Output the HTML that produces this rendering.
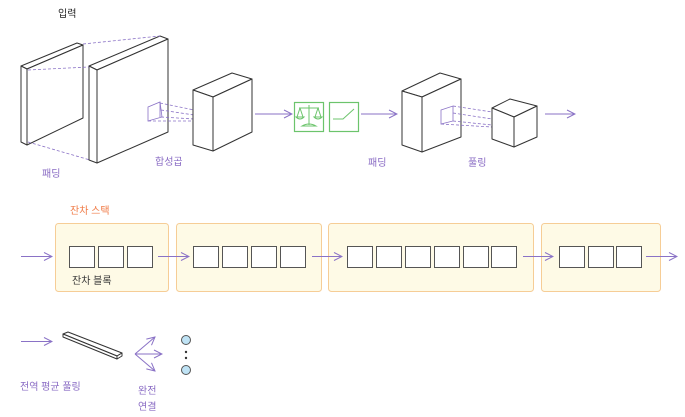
<!DOCTYPE html>
<html>
<head>
<meta charset="utf-8">
<style>
  html,body{margin:0;padding:0;background:#fff;}
  svg{display:block;}
  text{font-family:"Liberation Sans","Noto Sans CJK KR",sans-serif;font-size:10px;}
</style>
</head>
<body>
<svg width="685" height="417" viewBox="0 0 685 417" xmlns="http://www.w3.org/2000/svg">
  <defs>
    <marker id="ah" markerWidth="10" markerHeight="10" refX="9" refY="5" orient="auto" markerUnits="userSpaceOnUse">
      <path d="M1,1 L9,5 L1,9" fill="none" stroke="#8a72c6" stroke-width="1"/>
    </marker>
  </defs>

  <!-- Title -->
  <text x="58" y="17" fill="#222">입력</text>

  <!-- Slab 1 (input) -->
  <g stroke="#333" stroke-width="1" fill="#fff" stroke-linejoin="round">
    <polygon points="21,66 77,43 83,45 27,69"/>
    <polygon points="21,66 27,69 27,145 21,142"/>
    <polygon points="27,69 83,45 83,118 27,145"/>
  </g>
  <!-- Slab 2 (padded) -->
  <g stroke="#333" stroke-width="1" fill="#fff" stroke-linejoin="round">
    <polygon points="89,66 160,36 168,39 97,70"/>
    <polygon points="89,66 97,70 97,163 89,160"/>
    <polygon points="97,70 168,39 168,132 97,163"/>
  </g>
  <!-- dashed padding lines -->
  <g stroke="#8a72c6" stroke-width="0.8" stroke-dasharray="3,2" fill="none">
    <line x1="83" y1="44" x2="160" y2="36"/>
    <line x1="28" y1="70" x2="89" y2="67"/>
    <line x1="28" y1="142" x2="90" y2="160"/>
  </g>
  <!-- kernel on slab2 -->
  <g stroke="#8a72c6" stroke-width="0.8" fill="none">
    <polygon points="148,107 160,102 162,117 148,121"/>
    <line x1="160" y1="102" x2="160" y2="117"/>
  </g>
  <g stroke="#8a72c6" stroke-width="0.8" stroke-dasharray="3,2" fill="none">
    <line x1="160" y1="103" x2="194" y2="110"/>
    <line x1="161" y1="110" x2="194" y2="115"/>
    <line x1="161" y1="117" x2="194" y2="119"/>
    <line x1="148" y1="121" x2="194" y2="121"/>
  </g>
  <!-- Cube 3 -->
  <g stroke="#333" stroke-width="1" fill="#fff" stroke-linejoin="round">
    <polygon points="193,90 232,73 252,79 213,97"/>
    <polygon points="193,90 213,97 213,151 193,145"/>
    <polygon points="213,97 252,79 252,132 213,151"/>
  </g>
  <text x="155" y="165" fill="#8a6cc4">합성곱</text>
  <text x="42" y="177" fill="#8a6cc4">패딩</text>

  <!-- arrow to BN -->
  <line x1="255" y1="114" x2="292" y2="114" stroke="#8a72c6" stroke-width="1" marker-end="url(#ah)"/>

  <!-- Green BN box -->
  <rect x="294.5" y="102.5" width="29" height="29" fill="#fff" stroke="#6cc46c" stroke-width="1.2"/>
  <g stroke="#6cc46c" stroke-width="1" fill="none">
    <line x1="309" y1="105" x2="309" y2="125"/>
    <line x1="299" y1="108" x2="319" y2="108"/>
    <line x1="300" y1="108" x2="297" y2="117"/>
    <line x1="300" y1="108" x2="303" y2="117"/>
    <path d="M296,117 Q300,121 304,117 Z"/>
    <line x1="318" y1="108" x2="315" y2="117"/>
    <line x1="318" y1="108" x2="321" y2="117"/>
    <path d="M314,117 Q318,121 322,117 Z"/>
    <path d="M302,126 Q309,122 316,126 Z"/>
  </g>
  <!-- Green ReLU box -->
  <rect x="329.5" y="102.5" width="29" height="29" fill="#fff" stroke="#6cc46c" stroke-width="1.2"/>
  <polyline points="333,119 343,119 354,109" fill="none" stroke="#6cc46c" stroke-width="1"/>

  <line x1="361" y1="114" x2="397" y2="114" stroke="#8a72c6" stroke-width="1" marker-end="url(#ah)"/>

  <!-- Box 4 -->
  <g stroke="#333" stroke-width="1" fill="#fff" stroke-linejoin="round">
    <polygon points="402,91 440,73 461,79 422,97"/>
    <polygon points="402,91 422,97 422,152 402,145"/>
    <polygon points="422,97 461,79 461,137 422,152"/>
  </g>
  <g stroke="#8a72c6" stroke-width="0.8" fill="none">
    <polygon points="441,110 453,106 453,121 441,124"/>
  </g>
  <g stroke="#8a72c6" stroke-width="0.8" stroke-dasharray="3,2" fill="none">
    <line x1="453" y1="106" x2="492" y2="112"/>
    <line x1="453" y1="113" x2="492" y2="119"/>
    <line x1="453" y1="121" x2="492" y2="125"/>
    <line x1="441" y1="124" x2="492" y2="127"/>
  </g>
  <!-- small cube -->
  <g stroke="#333" stroke-width="1" fill="#fff" stroke-linejoin="round">
    <polygon points="492,108 510,99 537,106 514,117"/>
    <polygon points="492,108 514,117 514,147 492,139"/>
    <polygon points="514,117 537,106 537,137 514,147"/>
  </g>
  <text x="368" y="166" fill="#8a6cc4">패딩</text>
  <text x="468" y="166" fill="#8a6cc4">풀링</text>
  <line x1="545" y1="114" x2="575" y2="114" stroke="#8a72c6" stroke-width="1" marker-end="url(#ah)"/>

  <!-- Residual stack -->
  <text x="70" y="214" fill="#f07a45">잔차 스택</text>
  <g fill="#fefae6" stroke="#f6cd96" stroke-width="1">
    <rect x="55.5" y="223.5" width="113" height="68" rx="3"/>
    <rect x="176.5" y="223.5" width="145" height="68" rx="3"/>
    <rect x="328.5" y="223.5" width="205" height="68" rx="3"/>
    <rect x="541.5" y="223.5" width="119" height="68" rx="3"/>
  </g>
  <g fill="#fff" stroke="#555" stroke-width="1">
    <rect x="69.5" y="246.5" width="25" height="21"/>
    <rect x="98.5" y="246.5" width="25" height="21"/>
    <rect x="127.5" y="246.5" width="25" height="21"/>

    <rect x="193.5" y="246.5" width="25" height="21"/>
    <rect x="222.5" y="246.5" width="25" height="21"/>
    <rect x="251.5" y="246.5" width="25" height="21"/>
    <rect x="280.5" y="246.5" width="25" height="21"/>

    <rect x="347.5" y="246.5" width="25" height="21"/>
    <rect x="376.5" y="246.5" width="25" height="21"/>
    <rect x="405.5" y="246.5" width="25" height="21"/>
    <rect x="434.5" y="246.5" width="25" height="21"/>
    <rect x="463.5" y="246.5" width="25" height="21"/>
    <rect x="491.5" y="246.5" width="25" height="21"/>

    <rect x="559.5" y="246.5" width="25" height="21"/>
    <rect x="588.5" y="246.5" width="25" height="21"/>
    <rect x="616.5" y="246.5" width="25" height="21"/>
  </g>
  <text x="72" y="284" fill="#333">잔차 블록</text>
  <g stroke="#8a72c6" stroke-width="1" marker-end="url(#ah)">
    <line x1="21" y1="256.5" x2="52" y2="256.5"/>
    <line x1="158" y1="256.5" x2="189" y2="256.5"/>
    <line x1="312" y1="256.5" x2="342" y2="256.5"/>
    <line x1="523" y1="256.5" x2="553" y2="256.5"/>
    <line x1="646" y1="256.5" x2="677" y2="256.5"/>
  </g>

  <!-- Global average pooling -->
  <line x1="21" y1="341.5" x2="52" y2="341.5" stroke="#8a72c6" stroke-width="1" marker-end="url(#ah)"/>
  <g stroke="#333" stroke-width="1" fill="#fff" stroke-linejoin="round">
    <polygon points="63,334 68,332 122,353 117,356"/>
    <polygon points="63,334 117,356 117,359 63,337"/>
    <polygon points="117,356 122,353 122,356 117,359"/>
  </g>
  <text x="20" y="390" fill="#8a6cc4">전역 평균 풀링</text>

  <!-- Fully connected fan -->
  <g stroke="#8a72c6" stroke-width="1" marker-end="url(#ah)">
    <line x1="135" y1="354" x2="155" y2="337"/>
    <line x1="135" y1="354" x2="162" y2="354"/>
    <line x1="135" y1="354" x2="155" y2="371"/>
  </g>
  <circle cx="186" cy="340" r="4.5" fill="#bfe3f5" stroke="#555" stroke-width="1"/>
  <circle cx="186" cy="370" r="4.5" fill="#bfe3f5" stroke="#555" stroke-width="1"/>
  <circle cx="186" cy="352" r="1.2" fill="#333"/>
  <circle cx="186" cy="358" r="1.2" fill="#333"/>
  <text x="138" y="394" fill="#8a6cc4">완전</text>
  <text x="138" y="410" fill="#8a6cc4">연결</text>
</svg>
</body>
</html>
